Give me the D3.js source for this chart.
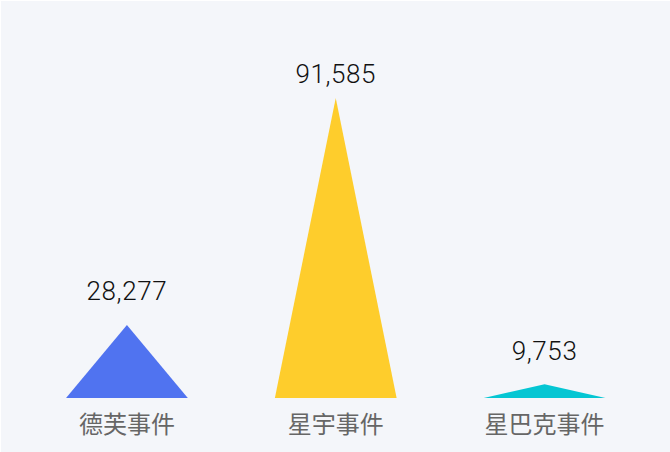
<!DOCTYPE html>
<html>
<head>
<meta charset="utf-8">
<script src="https://cdn.jsdelivr.net/npm/d3@7/dist/d3.min.js"></script>
<style>
  html, body { margin: 0; padding: 0; background: #ffffff; }
  svg { display: block; }
</style>
</head>
<body>
<div id="chart"></div>
<script>
// ---- data ----
const categories = ["德芙事件", "星宇事件", "星巴克事件"];
const values = [28277, 91585, 9753];
const colors = ["#5073f0", "#fecd2c", "#05c6d3"];

// ---- layout ----
const W = 670, H = 452;
const baseline = 398, plotTop = 98;
const labelMinBaseline = 82.7;

const svg = d3.select("#chart").append("svg")
  .attr("width", W).attr("height", H);

svg.append("rect")
  .attr("x", 1).attr("y", 1)
  .attr("width", W - 1).attr("height", H - 1)
  .attr("fill", "#f4f6fa");

const x = d3.scaleBand()
  .domain(categories)
  .range([22.5, 649])
  .paddingInner(0).paddingOuter(0);

const y = d3.scalePow().exponent(1.1)
  .domain([5000, d3.max(values)])
  .range([baseline, plotTop]);

const triW = x.step() * 0.583;
const data = categories.map((c, i) => ({ c, v: values[i], color: colors[i] }));

const g = svg.append("g");

g.selectAll("path.tri")
  .data(data)
  .join("path")
  .attr("class", "tri")
  .attr("fill", d => d.color)
  .attr("d", d => {
    const cx = x(d.c) + x.bandwidth() / 2;
    const top = y(d.v);
    return `M${cx - triW / 2},${baseline}L${cx},${top}L${cx + triW / 2},${baseline}Z`;
  });

const fmt = d3.format(",");

g.selectAll("text.val")
  .data(data)
  .join("text")
  .attr("class", "val")
  .attr("x", d => x(d.c) + x.bandwidth() / 2)
  .attr("y", d => Math.max(y(d.v) - 24.5, labelMinBaseline))
  .attr("text-anchor", "middle")
  .attr("font-family", "Roboto, 'Liberation Sans', Arial, sans-serif")
  .attr("font-weight", 300)
  .attr("font-size", 26)
  .attr("letter-spacing", 0.6)
  .attr("fill", "#111111")
  .text(d => fmt(d.v));

// category axis labels
const axis = d3.axisBottom(x).tickSize(0).tickPadding(0);
const ax = svg.append("g")
  .attr("transform", `translate(0,${baseline})`)
  .call(axis);
ax.select(".domain").remove();
ax.selectAll("text")
  .attr("dy", 0)
  .attr("y", 35)
  .attr("font-family", "'Noto Sans CJK SC', sans-serif")
  .attr("font-size", 24)
  .attr("fill", "#666666");
</script>
</body>
</html>
